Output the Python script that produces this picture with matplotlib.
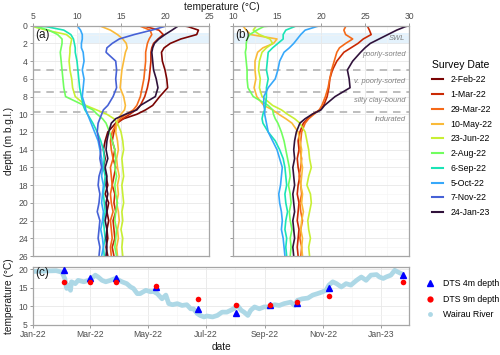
import datetime as dt
import numpy as np
import matplotlib
matplotlib.use('Agg')
import matplotlib.pyplot as plt
import matplotlib.dates as mdates
from matplotlib.lines import Line2D

plt.rcParams['font.family'] = ['Liberation Sans', 'DejaVu Sans']

# ---- data ----
survey_labels = ['2-Feb-22', '1-Mar-22', '29-Mar-22', '10-May-22', '23-Jun-22',
                 '2-Aug-22', '6-Sep-22', '5-Oct-22', '7-Nov-22', '24-Jan-23']

depth = [0, 0.1, 0.5, 1, 1.5, 2, 2.5, 3, 4, 5, 6, 7, 8, 9, 9.5, 10, 10.5, 11,
         12, 13, 14, 15, 16, 17, 18, 19, 20, 21, 22, 23, 24, 25, 26]

# panel (a) profiles
a_2feb = [22.0, 22.6, 23.8, 23.6, 21.8, 20.6, 19.9, 19.6, 19.7, 20.0, 20.2, 20.3, 19.4, 18.6, 17.8, 16.8, 15.3,
          14.4, 13.5, 13.2, 13.0, 13.2, 13.0, 13.3, 13.5, 13.2, 13.6, 13.4, 13.6, 13.4, 13.5, 13.3, 13.5]
a_1mar = [17.5, 17.8, 19.3, 19.8, 19.2, 18.7, 18.5, 18.4, 18.4, 18.3, 18.2, 18.0, 17.7, 17.2, 16.7, 16.0, 15.2,
          14.6, 14.2, 14.0, 14.3, 14.1, 14.4, 14.2, 14.0, 14.3, 14.2, 14.4, 14.1, 14.2, 14.3, 14.0, 14.2]
a_29mar = [17.0, 17.3, 18.3, 18.5, 18.2, 18.0, 17.9, 17.8, 17.8, 17.7, 17.6, 17.4, 17.2, 16.8, 16.4, 15.6, 14.9,
           14.5, 14.0, 13.8, 13.9, 14.1, 13.8, 13.9, 14.0, 13.8, 13.9, 14.1, 13.8, 13.9, 14.0, 13.8, 13.9]
a_10may = [12.5, 12.8, 13.8, 14.6, 15.2, 15.6, 15.7, 15.5, 15.3, 15.1, 15.0, 14.9, 15.3, 15.5, 15.4, 15.0, 14.7,
           14.5, 14.4, 14.6, 14.7, 14.5, 14.6, 14.8, 14.6, 14.7, 14.5, 14.7, 14.8, 14.6, 14.7, 14.5, 14.6]
a_23jun = [5.0, 5.0, 6.5, 8.8, 9.4, 9.3, 9.2, 9.2, 9.1, 9.2, 9.4, 9.5, 9.8, 11.0, 12.2, 13.4, 14.2,
           14.6, 15.0, 15.2, 15.3, 15.1, 15.2, 15.3, 15.1, 15.2, 15.3, 15.1, 15.2, 15.0, 15.2, 15.1, 15.2]
a_2aug = [10.0, 5.3, 6.8, 7.8, 8.3, 8.3, 8.2, 8.1, 8.2, 8.3, 8.4, 8.5, 8.7, 10.8, 11.8, 12.3, 12.9,
          13.3, 13.7, 14.0, 14.3, 14.4, 14.3, 14.5, 14.3, 14.4, 14.6, 14.4, 14.3, 14.5, 14.4, 14.3, 14.5]
a_6sep = [5.0, 6.5, 8.5, 9.3, 9.6, 9.7, 9.8, 9.8, 10.0, 10.1, 10.2, 10.3, 10.5, 10.7, 10.9, 11.2, 11.5,
          11.8, 12.3, 12.7, 13.0, 13.1, 13.0, 13.2, 13.1, 13.0, 13.1, 13.2, 13.0, 13.1, 13.2, 13.0, 13.1]
a_5oct = [10.0, 10.1, 10.4, 10.6, 10.6, 10.5, 10.5, 10.7, 10.8, 10.6, 10.8, 10.7, 10.6, 10.9, 11.0, 11.2, 11.4,
          11.6, 12.0, 12.4, 12.6, 12.8, 12.9, 12.8, 13.0, 12.9, 12.8, 13.0, 12.9, 12.7, 12.9, 13.0, 12.8]
a_7nov = [20.2, 19.9, 18.5, 16.5, 14.8, 14.0, 13.4, 13.3, 14.4, 14.5, 14.4, 14.5, 14.1, 13.5, 13.0, 12.8, 12.6,
          12.4, 12.3, 12.5, 12.7, 12.6, 12.8, 12.5, 12.4, 12.6, 12.5, 12.3, 12.6, 12.5, 12.4, 12.6, 12.5]
a_24jan = [21.5, 21.4, 20.8, 20.0, 19.3, 18.8, 18.6, 18.5, 18.6, 18.7, 19.0, 19.2, 18.9, 17.2, 16.8, 15.5, 14.4,
           13.9, 13.6, 13.4, 13.3, 13.5, 13.2, 13.4, 13.3, 13.5, 13.3, 13.4, 13.2, 13.4, 13.3, 13.4, 13.3]

# panel (b) profiles (no 2-Feb-22 or 7-Nov-22 survey)
b_1mar = [25.2, 25.3, 25.5, 25.7, 24.8, 24.2, 23.4, 22.6, 21.8, 21.3, 21.0, 20.9, 20.7, 20.3, 19.9, 19.0, 18.5,
          18.0, 17.6, 17.4, 17.5, 17.3, 17.4, 17.6, 17.4, 17.3, 17.5, 17.4, 17.3, 17.5, 17.4, 17.3, 17.4]
b_29mar = [22.9, 22.8, 22.6, 22.8, 23.6, 22.8, 22.1, 21.8, 21.5, 21.2, 21.0, 20.8, 20.5, 20.1, 19.8, 19.2, 18.6,
           18.2, 17.8, 17.7, 17.6, 17.8, 17.7, 17.5, 17.7, 17.8, 17.6, 17.7, 17.9, 17.7, 17.6, 17.8, 17.7]
b_10may = [11.0, 11.2, 11.5, 12.0, 15.0, 14.6, 13.4, 12.8, 12.5, 12.5, 12.6, 12.4, 12.7, 13.5, 14.5, 15.2, 16.0,
           16.7, 17.4, 17.6, 17.8, 17.7, 17.9, 17.8, 17.7, 17.9, 17.8, 18.0, 17.8, 17.7, 17.9, 17.8, 17.9]
b_23jun = [12.8, 12.6, 12.3, 13.0, 14.2, 14.5, 13.8, 13.3, 13.0, 12.9, 13.1, 13.0, 13.3, 14.5, 15.5, 16.2, 17.0,
           17.6, 18.2, 18.4, 18.6, 18.7, 18.9, 18.6, 18.4, 18.8, 18.9, 18.7, 18.5, 18.6, 18.8, 18.6, 18.7]
b_2aug = [14.6, 13.5, 12.7, 11.9, 11.6, 11.5, 11.5, 11.4, 11.5, 11.6, 11.6, 11.7, 12.3, 14.0, 14.5, 14.6, 14.8,
          15.1, 15.5, 15.8, 16.0, 16.2, 16.4, 16.5, 16.3, 16.5, 16.6, 16.4, 16.5, 16.7, 16.5, 16.6, 16.5]
b_6sep = [17.2, 17.0, 16.0, 15.7, 15.7, 15.1, 14.5, 14.0, 13.9, 13.8, 14.0, 13.8, 13.8, 13.7, 13.6, 13.4, 13.3,
          13.4, 14.0, 14.8, 15.3, 15.7, 15.9, 16.0, 16.1, 15.9, 16.0, 16.2, 16.0, 15.9, 16.1, 16.0, 16.1]
b_5oct = [19.9, 19.5, 18.2, 17.7, 17.3, 16.9, 16.4, 15.8, 15.3, 15.1, 14.8, 14.0, 13.5, 13.5, 13.6, 13.6, 13.7,
          13.8, 14.0, 14.5, 15.0, 15.3, 15.6, 15.5, 15.4, 15.2, 15.3, 15.5, 15.6, 15.5, 15.7, 15.8, 15.9]
b_24jan = [30.0, 29.6, 28.6, 27.6, 26.6, 25.6, 25.0, 24.5, 23.6, 23.0, 23.2, 23.3, 21.6, 20.4, 20.0, 19.0, 18.2,
           17.6, 17.2, 17.0, 16.9, 17.0, 16.8, 16.9, 17.0, 16.8, 16.9, 17.0, 16.8, 16.9, 17.0, 16.8, 16.9]

profiles_a = [a_2feb, a_1mar, a_29mar, a_10may, a_23jun, a_2aug, a_6sep, a_5oct, a_7nov, a_24jan]
profiles_b = [None, b_1mar, b_29mar, b_10may, b_23jun, b_2aug, b_6sep, b_5oct, None, b_24jan]

swl_top, swl_bottom = 0.85, 2.1
unit_depths = [5.0, 7.5, 9.7]
unit_names = ['SWL', 'poorly-sorted', 'v. poorly-sorted', 'silty clay-bound', 'indurated']
unit_label_depths = [1.45, 3.3, 6.3, 8.4, 10.6]

# panel (c): DTS at survey dates and river record
dts_4m = [19.7, 17.6, 17.6, 15.2, 9.2, 8.2, 10.2, 11.0, 14.8, 18.5]
dts_9m = [16.6, 16.6, 16.5, 15.4, 12.0, 10.4, 10.4, 11.2, 12.8, 16.6]

river_day = [0, 10, 24, 30, 33, 35, 37, 39, 40, 44, 47, 53, 58, 61, 65, 68, 72, 76, 81, 86, 90, 93, 98, 102,
             105, 109, 112, 118, 123, 126, 130, 135, 139, 142, 146, 151, 156, 161, 165, 168, 172, 175, 179,
             182, 188, 193, 198, 203, 207, 210, 214, 218, 221, 225, 228, 232, 237, 242, 247, 253, 258, 263,
             270, 274, 277, 282, 288, 293, 298, 303, 307, 310, 314, 318, 323, 328, 333, 339, 344, 349, 354,
             360, 363, 367, 370, 375, 379, 382, 386]
river_temp = [19.4, 19.5, 19.6, 19.2, 17.5, 14.8, 15.7, 14.3, 16.6, 16.1, 17.0, 16.6, 17.0, 17.5, 18.4, 17.9,
              17.0, 16.6, 17.0, 17.5, 17.0, 16.6, 16.1, 15.2, 14.8, 13.4, 13.4, 14.3, 13.9, 14.0, 13.4, 12.0,
              13.0, 10.7, 10.4, 10.7, 10.2, 10.4, 9.3, 9.3, 8.0, 7.5, 7.1, 7.35, 7.1, 7.5, 8.4, 8.4, 8.9, 9.3,
              10.2, 8.9, 8.4, 7.5, 8.9, 9.8, 9.3, 9.8, 9.8, 10.4, 10.2, 10.7, 11.1, 10.2, 11.6, 12.0, 12.2,
              13.0, 13.4, 13.85, 14.3, 15.7, 16.6, 16.1, 15.2, 16.1, 15.7, 17.0, 17.9, 17.0, 18.4, 18.55, 17.9,
              17.5, 17.9, 18.4, 19.7, 19.3, 18.8]

# ---- plotting ----
colors = plt.cm.turbo(np.linspace(1, 0, len(survey_labels)))
survey_dates = [dt.datetime.strptime(s, '%d-%b-%y') for s in survey_labels]
start = dt.datetime(2022, 1, 1)
river_dates = [start + dt.timedelta(days=d) for d in river_day]

W, H = 500, 355
fig = plt.figure(figsize=(W / 100, H / 100), dpi=100)
ax_a = fig.add_axes([33 / W, 1 - 256 / H, 176 / W, 230.3 / H])
ax_b = fig.add_axes([233 / W, 1 - 256 / H, 176 / W, 230.3 / H])
ax_c = fig.add_axes([33 / W, 1 - 324.7 / H, 376 / W, 57.7 / H])

tick_col = '#4d4d4d'
lab_col = '#1a1a1a'
tick_fs = 6.2
lab_fs = 7.3


def style(ax):
    for s in ax.spines.values():
        s.set_color('#a6a6a6')
        s.set_linewidth(0.9)
    ax.grid(True, which='major', color='#e8e8e8', lw=0.6)
    ax.grid(True, which='minor', color='#f3f3f3', lw=0.4)
    ax.set_axisbelow(True)
    ax.tick_params(which='both', colors='#8c8c8c', labelcolor=tick_col, labelsize=tick_fs,
                   length=2.2, width=0.6, pad=1.5)
    ax.tick_params(which='minor', length=0)


for ax, profs, xlo in [(ax_a, profiles_a, 5), (ax_b, profiles_b, 10)]:
    style(ax)
    ax.set_xlim(xlo, xlo + 20)
    ax.set_ylim(26, 0)
    ax.xaxis.tick_top()
    ax.set_xticks(np.arange(xlo, xlo + 21, 5))
    ax.set_xticks(np.arange(xlo + 2.5, xlo + 20, 5), minor=True)
    ax.set_yticks(np.arange(0, 27, 2))
    ax.set_yticks(np.arange(1, 26, 2), minor=True)
    ax.fill_between([10, xlo + 20], swl_top, swl_bottom, color='#e4f2fc', lw=0, zorder=0.5)
    for d in unit_depths:
        ax.axhline(d, color='#b3b3b3', lw=1.2, dashes=(4.5, 3.5), zorder=1)
    for prof, c in zip(profs, colors):
        if prof is not None:
            ax.plot(prof, depth, color=c, lw=1.2, zorder=2)

ax_b.set_yticklabels([])
ax_a.text(5.25, 1.0, '(a)', fontsize=8.5, va='center', ha='left', color=lab_col)
ax_b.text(10.25, 1.0, '(b)', fontsize=8.5, va='center', ha='left', color=lab_col)
for name, d in zip(unit_names, unit_label_depths):
    ax_b.text(29.6, d, name, fontsize=5.4, style='italic', color='#808080', ha='right', va='center')

fig.text(222 / W, 1 - 7 / H, 'temperature (°C)', fontsize=lab_fs, color=lab_col, ha='center', va='center')
fig.text(9 / W, 1 - 141 / H, 'depth (m b.g.l.)', fontsize=lab_fs, color=lab_col, ha='center', va='center',
         rotation=90)

# panel (c)
style(ax_c)
ax_c.plot(river_dates, river_temp, color='#add8e6', lw=3.4, solid_joinstyle='round', zorder=2)
ax_c.plot(survey_dates, dts_4m, '^', color='#0000ff', ms=4.5, ls='none', zorder=3)
ax_c.plot(survey_dates, dts_9m, 'o', color='#ff0000', ms=4, ls='none', zorder=4, markeredgewidth=0)
ax_c.set_xlim(dt.datetime(2021, 12, 31, 16), dt.datetime(2023, 1, 30))
ax_c.set_ylim(5, 20.6)
ax_c.set_yticks([5, 10, 15, 20])
ax_c.set_yticks([7.5, 12.5, 17.5], minor=True)
ax_c.xaxis.set_major_locator(mdates.MonthLocator(bymonth=[1, 3, 5, 7, 9, 11]))
ax_c.xaxis.set_minor_locator(mdates.MonthLocator(bymonth=[2, 4, 6, 8, 10, 12]))
ax_c.xaxis.set_major_formatter(mdates.DateFormatter('%b-%y'))
ax_c.text(dt.datetime(2022, 1, 3), 18.9, '(c)', fontsize=8.5, va='center', ha='left', color=lab_col)
fig.text(221 / W, 1 - 347 / H, 'date', fontsize=lab_fs, color=lab_col, ha='center', va='center')
fig.text(9 / W, 1 - 296 / H, 'temperature (°C)', fontsize=lab_fs, color=lab_col, ha='center', va='center',
         rotation=90)

# legends
leg_fs = 6.3
survey_handles = [Line2D([], [], color=c, lw=1.5) for c in colors]
leg1 = fig.legend(survey_handles, survey_labels, loc='upper left', bbox_to_anchor=(428.5 / W, 1 - 56 / H),
                  title='Survey Date', frameon=False, fontsize=leg_fs, title_fontsize=7.5,
                  handlelength=1.3, handletextpad=0.8, labelspacing=0.66, borderaxespad=0)
leg1._legend_box.align = 'left'

c_handles = [Line2D([], [], marker='^', color='#0000ff', ls='none', ms=5),
             Line2D([], [], marker='o', color='#ff0000', ls='none', ms=4.5, markeredgewidth=0),
             Line2D([], [], marker='o', color='#add8e6', ls='none', ms=3.5, markeredgewidth=0)]
fig.legend(c_handles, ['DTS 4m depth', 'DTS 9m depth', 'Wairau River'], loc='upper left',
           bbox_to_anchor=(420.5 / W, 1 - 276 / H), frameon=False, fontsize=leg_fs,
           handlelength=1.4, handletextpad=0.8, labelspacing=0.74, borderaxespad=0)

fig.savefig('out.png', dpi=100)
plt.close(fig)
